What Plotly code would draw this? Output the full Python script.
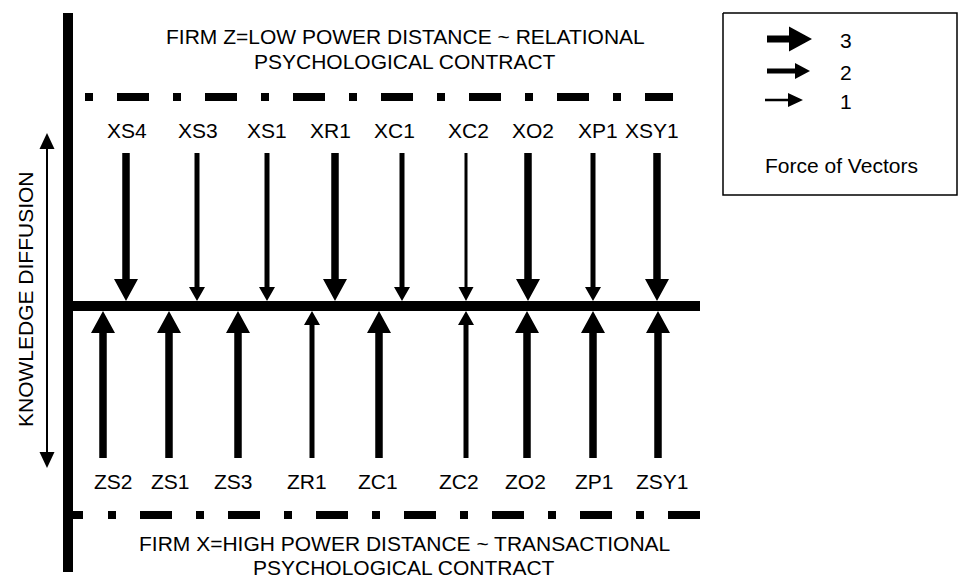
import plotly.graph_objects as go

# ---------------- data ----------------
top_labels = ["XS4", "XS3", "XS1", "XR1", "XC1", "XC2", "XO2", "XP1", "XSY1"]
top_force = [3, 2, 2, 3, 2, 1, 3, 2, 3]
bottom_labels = ["ZS2", "ZS1", "ZS3", "ZR1", "ZC1", "ZC2", "ZO2", "ZP1", "ZSY1"]
bottom_force = [3, 3, 3, 2, 3, 2, 3, 3, 3]
legend_levels = [3, 2, 1]
top_title = ["FIRM Z=LOW POWER DISTANCE ~ RELATIONAL", "PSYCHOLOGICAL CONTRACT"]
bottom_title = ["FIRM X=HIGH POWER DISTANCE ~ TRANSACTIONAL", "PSYCHOLOGICAL CONTRACT"]
axis_title = "KNOWLEDGE DIFFUSION"
legend_title = "Force of Vectors"

# ---------------- layout (diagram space, pixel-like units) ----------------
W, H = 959, 575
top_arrow_x = [126, 197, 267, 335, 402, 466, 528, 593, 657]
top_label_x = [127, 198, 267, 330, 394, 468, 533, 598, 652]
bot_arrow_x = [103, 169, 238, 312, 379, 466, 527, 593, 658]
bot_label_x = [113, 170, 233, 307, 378, 459, 525, 594, 662]

# force -> (shaft width, head width, head length)
STYLE = {3: (7.5, 24, 22), 2: (5, 16, 14), 1: (3, 15, 14)}
LEG_STYLE = {3: (7, 25, 23), 2: (5, 16, 15), 1: (2.5, 14, 15)}

FONT = "Liberation Sans, Arial, sans-serif"
FS = 21

fig = go.Figure()


def poly(xs, ys):
    fig.add_trace(go.Scatter(x=xs + [xs[0]], y=ys + [ys[0]], mode="lines",
                             fill="toself", fillcolor="black",
                             line=dict(width=0, color="black"),
                             hoverinfo="skip", showlegend=False))


def v_arrow(x, tail, tip, sw, hw, hl):
    d = 1 if tip > tail else -1
    base = tip - d * hl
    poly([x - sw / 2, x + sw / 2, x + sw / 2, x + hw / 2, x, x - hw / 2, x - sw / 2],
         [tail, tail, base, base, tip, base, base])


def h_arrow(y, tail, tip, sw, hw, hl):
    base = tip - hl
    poly([tail, tail, base, base, tip, base, base],
         [y - sw / 2, y + sw / 2, y + sw / 2, y + hw / 2, y, y - hw / 2, y - sw / 2])


def rect(x0, x1, y0, y1):
    poly([x0, x1, x1, x0], [y0, y0, y1, y1])


def line(xs, ys, width, dash="solid", color="black"):
    fig.add_trace(go.Scatter(x=xs, y=ys, mode="lines",
                             line=dict(width=width, color=color, dash=dash),
                             hoverinfo="skip", showlegend=False))


def text(x, y, s, size=FS, angle=0):
    fig.add_annotation(x=x, y=y, xref="x", yref="y", text=s, showarrow=False,
                       font=dict(family=FONT, size=size, color="black"),
                       xanchor="center", yanchor="middle", textangle=angle)


# main axes of the diagram
rect(63, 73, 13, 572)          # vertical bar
rect(68, 700, 301, 311)        # central horizontal bar

# dash-dot boundary lines
DASH = "8px,24px,32px,24px"
line([85, 673], [97, 97], 8, DASH)
line([73, 83], [515, 515], 8)
line([108, 700], [515, 515], 8, DASH)

# top (downward) vectors
for xa, f in zip(top_arrow_x, top_force):
    sw, hw, hl = STYLE[f]
    v_arrow(xa, 153, 301, sw, hw, hl)
for xl, lab in zip(top_label_x, top_labels):
    text(xl, 130, lab)

# bottom (upward) vectors
for xa, f in zip(bot_arrow_x, bottom_force):
    sw, hw, hl = STYLE[f]
    v_arrow(xa, 458, 311, sw, hw, hl)
for xl, lab in zip(bot_label_x, bottom_labels):
    text(xl, 481, lab)

# knowledge diffusion double arrow
rect(46, 48, 145, 456)
v_arrow(47, 150, 133, 2, 15, 16)
v_arrow(47, 450, 468, 2, 15, 16)
text(25, 299, axis_title, angle=-90)

# titles
text(405, 36, top_title[0])
text(405, 61, top_title[1])
text(404, 543, bottom_title[0])
text(404, 567, bottom_title[1])

# legend box
line([723, 957, 957, 723, 723], [13, 13, 195, 195, 13], 1.5)
leg_y = [39, 71, 100]
leg_tail = [767, 767, 765]
leg_tip = [812, 810, 803]
for lv, yy, t0, t1 in zip(legend_levels, leg_y, leg_tail, leg_tip):
    sw, hw, hl = LEG_STYLE[lv]
    h_arrow(yy, t0, t1, sw, hw, hl)
    text(846, yy + 1, str(lv))
text(841, 165, legend_title)

fig.update_layout(
    width=W, height=H,
    margin=dict(l=0, r=0, t=0, b=0),
    paper_bgcolor="white", plot_bgcolor="white",
    xaxis=dict(range=[0, W], visible=False, fixedrange=True),
    yaxis=dict(range=[H, 0], visible=False, fixedrange=True),
    showlegend=False,
)

fig.write_html("out.html", config={"displayModeBar": False},
               post_script="document.body.style.margin='0';document.body.style.overflow='hidden';")
